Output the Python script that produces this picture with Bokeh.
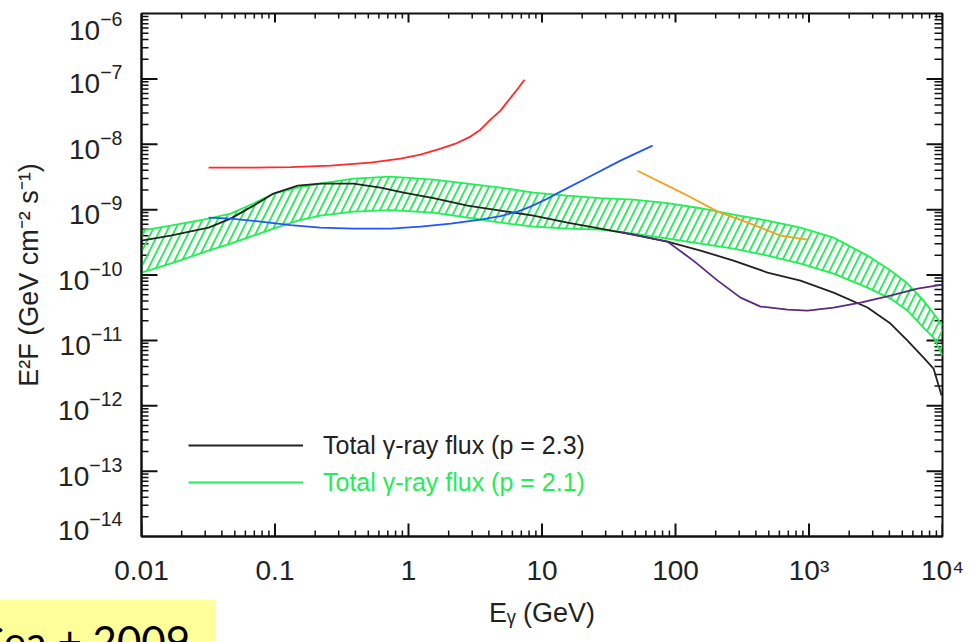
import math

from bokeh.plotting import figure
from bokeh.models import FixedTicker, Legend, LegendItem, Div
from bokeh.layouts import column
from bokeh.embed import file_html
from bokeh.resources import INLINE

# Photon energy E (GeV) and E^2 F (GeV cm^-2 s^-1) for each curve
red_E = [0.0318, 0.0655, 0.131, 0.261, 0.519, 0.871, 1.23, 1.74, 2.25, 2.91, 3.46, 4.11,
         4.89, 5.52, 6.33, 7.40]
red_F = [4.39e-9, 4.39e-9, 4.47e-9, 4.71e-9, 5.24e-9, 6.03e-9, 6.94e-9, 8.57e-9, 1.02e-8,
         1.31e-8, 1.67e-8, 2.38e-8, 3.27e-8, 4.48e-8, 6.37e-8, 9.72e-8]

blue_E = [0.0318, 0.0465, 0.0778, 0.131, 0.219, 0.387, 0.733, 1.23, 2.07, 3.46, 4.89, 6.55,
          8.20, 10.6, 13.1, 21.9, 38.7, 67.3]
blue_F = [7.55e-10, 7.28e-10, 6.56e-10, 5.79e-10, 5.31e-10, 5.12e-10, 5.12e-10, 5.50e-10,
          6.11e-10, 7.03e-10, 7.96e-10, 9.31e-10, 1.11e-9, 1.42e-9, 1.79e-9, 3.08e-9,
          5.61e-9, 9.53e-9]

orange_E = [51.9, 115, 207, 365, 612, 975]
orange_F = [3.94e-9, 1.76e-9, 9.31e-10, 6.11e-10, 4.00e-10, 3.48e-10]

purple_E = [38.7, 87.1, 136, 207, 307, 434, 690, 975, 1528, 2432, 4074, 6501, 10000]
purple_F = [4.51e-10, 3.24e-10, 1.66e-10, 8.20e-11, 4.51e-11, 3.29e-11, 2.96e-11, 2.86e-11,
            3.18e-11, 3.78e-11, 4.84e-11, 6.19e-11, 7.13e-11]

# total gamma-ray flux, p = 2.3
tot23_E = [0.01, 0.0165, 0.0318, 0.0465, 0.0690, 0.0975, 0.148, 0.219, 0.387, 0.617, 0.918,
           1.54, 2.77, 4.89, 8.63, 15.5, 27.4, 48.4, 87.1, 154, 272, 489, 863, 1528, 2742,
           4074, 5470, 7211, 8570, 9840]
tot23_F = [3.36e-10, 4.00e-10, 5.31e-10, 7.28e-10, 1.15e-9, 1.76e-9, 2.33e-9, 2.50e-9, 2.50e-9,
           2.17e-9, 1.82e-9, 1.50e-9, 1.15e-9, 9.66e-10, 8.09e-10, 6.32e-10, 5.12e-10, 4.15e-10,
           3.24e-10, 2.36e-10, 1.66e-10, 1.09e-10, 8.20e-11, 5.38e-11, 3.18e-11, 1.81e-11,
           9.93e-12, 5.46e-12, 3.71e-12, 1.43e-12]

# total gamma-ray flux, p = 2.1 (uncertainty band)
band_E = [0.01, 0.0165, 0.0318, 0.0465, 0.0690, 0.0975, 0.148, 0.219, 0.387, 0.733, 1.54, 2.77,
          4.89, 8.63, 15.5, 27.4, 48.4, 87.1, 154, 272, 489, 863, 1528, 2742, 4074, 5470, 7211,
          8570, 10000]
band_hi = [4.78e-10, 5.69e-10, 7.28e-10, 8.69e-10, 1.24e-9, 1.76e-9, 2.17e-9, 2.50e-9, 2.98e-9,
           3.20e-9, 2.88e-9, 2.50e-9, 2.17e-9, 1.82e-9, 1.64e-9, 1.50e-9, 1.42e-9, 1.26e-9,
           1.05e-9, 8.39e-10, 6.79e-10, 5.31e-10, 3.73e-10, 1.98e-10, 1.17e-10, 7.40e-11,
           4.06e-11, 2.57e-11, 1.68e-11]
band_lo = [1.09e-10, 1.49e-10, 2.36e-10, 3.02e-10, 4.00e-10, 5.12e-10, 6.79e-10, 8.09e-10,
           9.31e-10, 9.82e-10, 8.99e-10, 7.55e-10, 6.32e-10, 5.50e-10, 5.12e-10, 4.94e-10,
           4.30e-10, 3.61e-10, 3.02e-10, 2.54e-10, 1.98e-10, 1.49e-10, 1.05e-10, 6.41e-11,
           4.36e-11, 2.86e-11, 1.57e-11, 1.10e-11, 5.86e-12]

# axis ticks and tick labels
x_major = [1e-2, 1e-1, 1, 10, 100, 1e3, 1e4]
x_tick_text = ["0.01", "0.1", "1", "10", "100", "10³", "10⁴"]
y_major = [1e-13, 1e-12, 1e-11, 1e-10, 1e-9, 1e-8, 1e-7]
y_lo, y_hi = 1e-14, 1e-6

legend_labels = ["Total γ-ray flux (p = 2.3)", "Total γ-ray flux (p = 2.1)"]
citation = "de Cea + 2009"

GREEN = "#22EE55"
INK = "#111111"
FONT = "Liberation Sans"

x_minor = [m * 10.0 ** k for k in range(-2, 4) for m in range(2, 10)]
y_minor = [m * 10.0 ** k for k in range(-14, -6) for m in range(2, 10)]

p = figure(width=970, height=642, x_axis_type="log", y_axis_type="log",
           x_range=(x_major[0], x_major[-1]), y_range=(y_lo, y_hi),
           output_backend="svg", toolbar_location=None,
           min_border_left=141, min_border_right=28, min_border_top=13, min_border_bottom=106,
           background_fill_color="white", border_fill_color="white")
p.xgrid.visible = False
p.ygrid.visible = False
p.outline_line_color = INK
p.outline_line_width = 2

xa = p.xaxis[0]
xa.ticker = FixedTicker(ticks=x_major, minor_ticks=[])
xa.major_label_overrides = dict(zip(x_major, x_tick_text))
xa.major_tick_line_color = None
xa.minor_tick_line_color = None
xa.axis_line_color = INK
xa.axis_line_width = 2
xa.major_label_standoff = 12
xa.major_label_text_font = FONT
xa.major_label_text_font_size = "28px"
xa.major_label_text_color = "#222222"
xa.axis_label = "Eᵧ (GeV)"
xa.axis_label_text_font = FONT
xa.axis_label_text_font_size = "27px"
xa.axis_label_text_font_style = "normal"
xa.axis_label_text_color = "#222222"
xa.axis_label_standoff = 9

# the end labels (10^-6, 10^-14) are pulled inward so they stay beside the frame
px_per_decade = 523 / 8.0
end_shift = 11.5 / px_per_decade
y_label_ticks = ([10 ** (math.log10(y_lo) + end_shift)] + y_major
                 + [10 ** (math.log10(y_hi) - end_shift)])

ya = p.yaxis[0]
ya.ticker = FixedTicker(ticks=y_label_ticks, minor_ticks=[])
ya.major_tick_line_color = None
ya.minor_tick_line_color = None
ya.axis_line_color = INK
ya.axis_line_width = 2
ya.major_label_standoff = 13
ya.major_label_text_font = FONT
ya.major_label_text_font_size = "28px"
ya.major_label_text_color = "#222222"
ya.axis_label = "E²F (GeV cm⁻² s⁻¹)"
ya.axis_label_text_font = FONT
ya.axis_label_text_font_size = "27px"
ya.axis_label_text_font_style = "normal"
ya.axis_label_text_color = "#222222"
ya.axis_label_standoff = 11


# inward tick marks on all four sides of the frame
def ticks(xs, ys, angle, length, width):
    p.ray(x=xs, y=ys, angle=angle, length=length, length_units="screen",
          line_color=INK, line_width=width)


ticks([x_major[0]] * len(y_major), y_major, 0, 16, 2)
ticks([x_major[0]] * len(y_minor), y_minor, 0, 7, 1.5)
ticks([x_major[-1]] * len(y_major), y_major, math.pi, 16, 2)
ticks([x_major[-1]] * len(y_minor), y_minor, math.pi, 8, 1.5)
ticks(x_major, [y_lo] * len(x_major), math.pi / 2, 13, 2)
ticks(x_minor, [y_lo] * len(x_minor), math.pi / 2, 6, 1.5)
ticks(x_major, [y_hi] * len(x_major), -math.pi / 2, 9, 2)
ticks(x_minor, [y_hi] * len(x_minor), -math.pi / 2, 5, 1.5)

# hatched band and its outline
p.varea(x=band_E, y1=band_lo, y2=band_hi, fill_color=None, fill_alpha=0,
        hatch_pattern="/", hatch_color=GREEN, hatch_weight=1.8, hatch_scale=15)
r_hi = p.line(band_E, band_hi, line_color=GREEN, line_width=1.8)
r_lo = p.line(band_E, band_lo, line_color=GREEN, line_width=1.8)

r_black = p.line(tot23_E, tot23_F, line_color="#222222", line_width=1.8)
p.line(purple_E, purple_F, line_color="#5A2A82", line_width=1.8)
p.line(red_E, red_F, line_color="#FF2A2A", line_width=1.8)
p.line(blue_E, blue_F, line_color="#2255FF", line_width=1.8)
p.line(orange_E, orange_F, line_color="#F5A023", line_width=1.8)

# legends (one per entry so each label keeps its own colour)
for lbl, rend, col, vy in [(legend_labels[0], r_black, "#222222", 76),
                           (legend_labels[1], r_lo, GREEN, 39)]:
    leg = Legend(items=[LegendItem(label=lbl, renderers=[rend])], location=(47, vy),
                 glyph_width=115, glyph_height=30, label_height=30, label_standoff=20,
                 padding=0, margin=0, spacing=0, border_line_color=None,
                 background_fill_alpha=0, label_text_font=FONT,
                 label_text_font_size="25px", label_text_color=col)
    p.add_layout(leg)

# citation tag laid over the lower-left corner of the page
tag = Div(
    text=('<div style="position:absolute; right:25px; top:11px; white-space:nowrap; '
          'font-family:Lato; font-size:42px; color:#000;">' + citation + '</div>'),
    width=215, height=42, margin=0,
    styles={"background-color": "#FFFF99", "overflow": "hidden", "position": "relative",
            "margin-top": "-42px", "z-index": "5"})

root = column(p, tag, spacing=0)
open("out.html", "w").write(file_html(root, INLINE))
